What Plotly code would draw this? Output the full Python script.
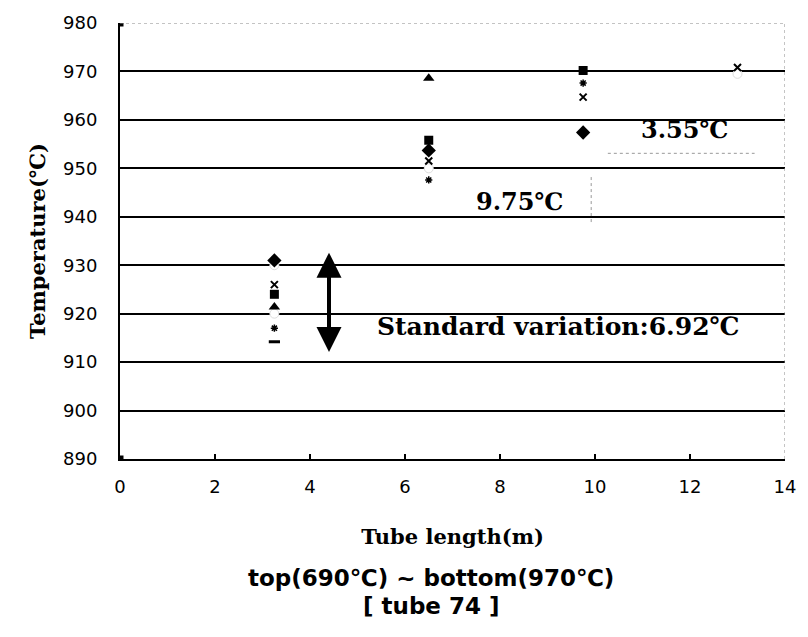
import plotly.graph_objects as go

# ---- data ----
end_x = [0, 0]
end_y = [980, 890]

diamond_x = [3.25, 6.5, 9.75]
diamond_y = [931.0, 953.7, 957.4]

square_x = [3.25, 6.5, 9.75]
square_y = [924.0, 955.8, 970.2]

triangle_x = [3.25, 6.5]
triangle_y = [921.4, 968.6]

cross_x = [3.25, 6.5, 9.75, 13.0]
cross_y = [926.0, 951.5, 964.7, 970.8]

star_x = [3.25, 6.5, 9.75]
star_y = [917.0, 947.6, 967.6]

dash_x = [3.25]
dash_y = [914.2]

circle_x = [3.25, 3.25, 6.5, 13.0]
circle_y = [930.0, 920.0, 950.0, 969.5]

y_ticks = [890, 900, 910, 920, 930, 940, 950, 960, 970, 980]
x_ticks = [0, 2, 4, 6, 8, 10, 12, 14]

serif = "DejaVu Serif, Liberation Serif, serif"
sans = "DejaVu Sans, Liberation Sans, sans-serif"

fig = go.Figure()

def add(xs, ys, symbol, size, color="black", line_color="black", line_width=0):
    fig.add_trace(go.Scatter(
        x=xs, y=ys, mode="markers", showlegend=False,
        marker=dict(symbol=symbol, size=size, color=color,
                    line=dict(color=line_color, width=line_width)),
    ))

add(circle_x, circle_y, "circle", 9, color="white", line_color="#dddddd", line_width=1)
add(end_x, end_y, "square", 7)
add(diamond_x, diamond_y, "diamond", 11)
add(square_x, square_y, "square", 9)
add(triangle_x, triangle_y, "triangle-up", 10)
add(cross_x, cross_y, "x-thin", 7, line_color="black", line_width=2)
add(star_x, star_y, "asterisk", 6, line_color="black", line_width=1.5)
add(dash_x, dash_y, "line-ew", 8, line_color="black", line_width=3)

# faint dotted leader lines seen in the scan
fig.add_trace(go.Scatter(x=[9.92, 9.92], y=[948.2, 938.7], mode="lines", showlegend=False,
                         line=dict(color="#999999", width=1, dash="dot")))
fig.add_trace(go.Scatter(x=[10.27, 13.36], y=[953.1, 953.1], mode="lines", showlegend=False,
                         line=dict(color="#999999", width=1, dash="dot")))

# top & right dotted borders
fig.add_shape(type="line", xref="paper", yref="y", x0=0, x1=1, y0=980, y1=980,
              line=dict(color="#888888", width=1, dash="dot"))
fig.add_shape(type="line", xref="x", yref="paper", x0=14, x1=14, y0=0, y1=1,
              line=dict(color="#888888", width=1, dash="dot"))

# double-headed arrow
fig.add_annotation(x=4.4, y=932.6, ax=4.4, ay=911.8, xref="x", yref="y", axref="x", ayref="y",
                   text="", showarrow=True, arrowhead=2, startarrowhead=2,
                   arrowside="end+start", arrowwidth=4, arrowsize=1.25, startarrowsize=1.25,
                   arrowcolor="black", standoff=0, startstandoff=0)

fig.add_annotation(x=5.37, y=917.3, xref="x", yref="y", xanchor="left", yanchor="middle",
                   text="<b>Standard variation:6.92℃</b>", showarrow=False,
                   font=dict(family=serif, size=25, color="black"))
fig.add_annotation(x=7.46, y=943.1, xref="x", yref="y", xanchor="left", yanchor="middle",
                   text="<b>9.75℃</b>", showarrow=False,
                   font=dict(family=serif, size=24, color="black"))
fig.add_annotation(x=10.93, y=958.0, xref="x", yref="y", xanchor="left", yanchor="middle",
                   text="<b>3.55℃</b>", showarrow=False,
                   font=dict(family=serif, size=24, color="black"))

fig.add_annotation(x=0.467, y=-0.274, xref="paper", yref="paper", xanchor="center", yanchor="middle",
                   text="<b>top(690℃) ~ bottom(970℃)</b>", showarrow=False,
                   font=dict(family=sans, size=23, color="black"))
fig.add_annotation(x=0.467, y=-0.338, xref="paper", yref="paper", xanchor="center", yanchor="middle",
                   text="<b>[ tube 74 ]</b>", showarrow=False,
                   font=dict(family=sans, size=23, color="black"))

fig.update_layout(
    width=808, height=637,
    margin=dict(l=120, r=18, t=17, b=178),
    paper_bgcolor="white", plot_bgcolor="white",
    xaxis=dict(
        range=[0, 14], tickvals=x_ticks, ticktext=[str(v) for v in x_ticks],
        showgrid=False, zeroline=False,
        showline=True, linecolor="black", linewidth=2,
        ticks="inside", ticklen=5, tickwidth=2, tickcolor="black",
        tickfont=dict(family=sans, size=18, color="black"),
        ticklabelstandoff=10,
        title=dict(text="<b>Tube length(m)</b>", standoff=34,
                   font=dict(family=serif, size=21, color="black")),
    ),
    yaxis=dict(
        range=[890, 980], tickvals=y_ticks, ticktext=[str(v) for v in y_ticks],
        showgrid=True, gridcolor="black", gridwidth=2, zeroline=False,
        showline=True, linecolor="black", linewidth=2,
        ticks="outside", ticklen=17, tickcolor="rgba(0,0,0,0)",
        tickfont=dict(family=sans, size=18, color="black"),
        title=dict(text="<b>Temperature(℃)</b>", standoff=12,
                   font=dict(family=serif, size=21, color="black")),
    ),
)

fig.write_html("out.html")
